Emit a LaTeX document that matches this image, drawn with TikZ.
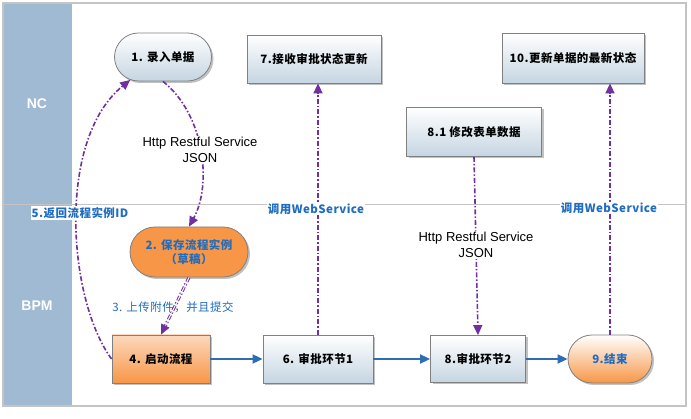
\documentclass[tikz,border=0pt]{standalone}
\usepackage{fontspec}
\setmainfont{Liberation Sans}
\newfontfamily\cjk{Noto Sans CJK SC}[LetterSpace=4]
\usetikzlibrary{arrows.meta,shadows,shapes.misc}
\definecolor{lanebg}{HTML}{9FBAD2}
\definecolor{frame}{HTML}{C4C4C4}
\definecolor{purp}{HTML}{7030A0}
\definecolor{flowblue}{HTML}{2E6DB5}
\definecolor{txtblue}{HTML}{1F6CC0}
\definecolor{boxbot}{HTML}{C5D5E2}
\definecolor{boxedge}{HTML}{808080}
\definecolor{orng}{HTML}{F79646}
\definecolor{orngl}{HTML}{FCD9BD}
\tikzset{
  base/.style={draw=boxedge, line width=0.8pt, font=\cjk\bfseries\fontsize{11.5}{14}\selectfont,
    align=center, inner sep=0pt, drop shadow={shadow xshift=2pt, shadow yshift=-2pt, fill=black!35, opacity=0.7}},
  bluebox/.style={base, rectangle, top color=white, bottom color=boxbot},
  bluepill/.style={base, rounded rectangle, top color=white, bottom color=boxbot},
  orangepill/.style={base, rounded rectangle, fill=orng, text=txtblue},
  orangebox/.style={base, rectangle, top color=orngl, bottom color=orng},
  endpill/.style={base, rounded rectangle, top color=white, bottom color=orng, text=txtblue},
  flow/.style={draw=flowblue, line width=1.8pt, -{Triangle[length=10pt,width=9pt]}},
  call/.style={draw=purp, line width=1.6pt, dash pattern=on 5pt off 2pt on 1.5pt off 2pt, -{Triangle[length=10pt,width=9pt]}},
  submit/.style={draw=purp, line width=1pt, double=white, double distance=1pt, dash pattern=on 5pt off 2pt on 1.5pt off 2pt, -{Triangle[length=10pt,width=9pt]}},
  lbl/.style={fill=white, inner sep=1pt, align=center},
  rest/.style={lbl, font=\fontsize{13}{16}\selectfont},
  ws/.style={lbl, text=txtblue, font=\cjk\bfseries\fontsize{11.5}{14}\selectfont},
  lane/.style={text=white, font=\bfseries\fontsize{14}{16}\selectfont}
}
\begin{document}
\begin{tikzpicture}[x=1pt,y=-1pt]
\useasboundingbox (0,0) rectangle (691,419);
% swimlanes
\fill[lanebg] (3,3) rectangle (72,406);
\draw[frame, line width=1.5pt] (3,3) rectangle (686,406);
\draw[frame, line width=1.5pt] (3,204.5) -- (686,204.5);
\node[lane] (nc) at (37,104) {NC};
\node[lane] (bpm) at (37,306) {BPM};
% nodes
\node[bluepill, minimum width=97pt, minimum height=48pt] (n1) at (163,57) {1. 录入单据};
\node[bluebox, minimum width=134pt, minimum height=48pt] (n7) at (314,59) {7.接收审批状态更新};
\node[bluebox, minimum width=142pt, minimum height=50pt] (n10) at (573,58) {10.更新单据的最新状态};
\node[bluebox, minimum width=135pt, minimum height=49pt] (n81) at (474,132) {8.1 修改表单数据};
\node[orangepill, minimum width=118pt, minimum height=50pt] (n2) at (189,252) {2. 保存流程实例\\（草稿）};
\node[orangebox, minimum width=98pt, minimum height=48pt] (n4) at (161,359) {4. 启动流程};
\node[bluebox, minimum width=110pt, minimum height=48pt] (n6) at (318,359) {6. 审批环节1};
\node[bluebox, minimum width=95pt, minimum height=47pt] (n8) at (478,359) {8.审批环节2};
\node[endpill, minimum width=84pt, minimum height=48pt] (n9) at (610,359) {9.结束};
% flow
\draw[flow] (n4) -- (n6);
\draw[flow] (n6) -- (n8);
\draw[flow] (n8) -- (n9);
% calls
\draw[call] (n1.south) .. controls (205,115) and (212,185) .. (n2.north);
\node[rest] (l1) at (200,150) {Http Restful Service\\JSON};
\draw[submit] (n2.south) -- (n4.north);
\node[lbl, text=txtblue, font=\cjk\fontsize{11.5}{14}\selectfont, fill=none] (l3) at (173,307) {3. 上传附件，并且提交};
\draw[call] (n4.west) .. controls (68,300) and (56,140) .. (n1.215);
\node[ws] (l5) at (80,213) {5.返回流程实例ID};
\draw[call] (n6.north) -- (n6.north |- n7.south);
\node[ws] (l6) at (316,209) {调用WebService};
\draw[call] (n81.south) -- (n8.north);
\node[rest] (l8) at (476,245) {Http Restful Service\\JSON};
\draw[call] (n9.north) -- (n9.north |- n10.south);
\node[ws] (l9) at (609,208) {调用WebService};
\end{tikzpicture}
\end{document}
